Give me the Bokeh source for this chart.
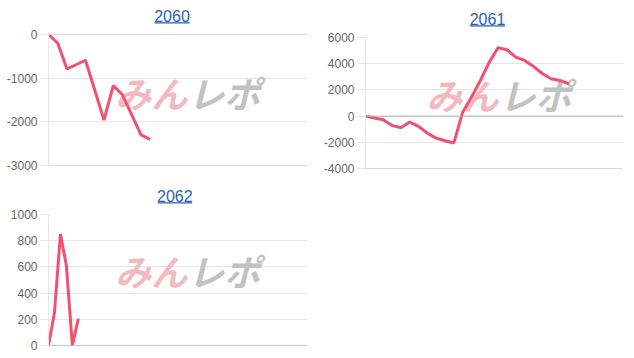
from bokeh.plotting import figure
from bokeh.models import Range1d, FixedTicker, Span, Label, PrintfTickFormatter
from bokeh.layouts import row, column
from bokeh.core.properties import value
from bokeh.embed import file_html
from bokeh.resources import INLINE

# ---- data ----
titles = ["2060", "2061", "2062"]

x_2060 = [0, 1, 2, 4, 6, 7, 8, 10, 11]
y_2060 = [0, -200, -790, -590, -1960, -1170, -1380, -2300, -2400]

x_2061 = list(range(24))
y_2061 = [0, -150, -280, -710, -890, -460, -790, -1300, -1680, -1880, -2050,
          300, 1450, 2720, 4100, 5220, 5070, 4500, 4250, 3800, 3250, 2850, 2720, 2470]

x_2062 = [0, 1, 2, 3, 4, 5]
y_2062 = [0, 250, 850, 610, 0, 205]

ticks_2060 = [-3000, -2000, -1000, 0]
ticks_2061 = [-4000, -2000, 0, 2000, 4000, 6000]
ticks_2062 = [0, 200, 400, 600, 800, 1000]

LINE = "#f2506f"
GRID = "#e6e6e6"
DARK = "#b4b4b4"
TITLE_C = "#2a62b6"
FONT = "Liberation Sans"
W = 317
BL = 48


def header(title, height, br, cx, mid, ul_y):
    h = figure(width=W, height=height, output_backend="svg", toolbar_location=None,
               x_range=Range1d(BL, W - br), y_range=Range1d(height, 0),
               min_border_left=BL, min_border_right=br, min_border_top=0, min_border_bottom=0)
    h.axis.visible = False
    h.grid.grid_line_color = None
    h.outline_line_color = None
    h.text(x=[cx], y=[mid], text=[title], text_font=value(FONT), text_font_size="16px",
           text_align="center", text_baseline="middle", text_color=TITLE_C)
    half = 17.6
    h.segment(x0=[cx - half], y0=[ul_y], x1=[cx + half], y1=[ul_y],
              line_color=TITLE_C, line_width=1.2)
    return h


def chart(xs, ys, ticks, xr, height, br, bb, wm):
    p = figure(width=W, height=height, output_backend="svg", toolbar_location=None,
               x_range=Range1d(*xr), y_range=Range1d(ticks[0], ticks[-1]),
               min_border_left=BL, min_border_right=br, min_border_top=8, min_border_bottom=bb)
    p.outline_line_color = None
    p.background_fill_color = "white"
    p.border_fill_color = "white"
    p.xaxis.visible = False
    p.xgrid.grid_line_color = None
    p.ygrid.grid_line_color = GRID
    p.yaxis.ticker = FixedTicker(ticks=ticks)
    p.yaxis.formatter = PrintfTickFormatter(format="%d")
    p.yaxis.axis_line_color = GRID
    p.yaxis.major_tick_line_color = GRID
    p.yaxis.major_tick_out = 8
    p.yaxis.major_tick_in = 0
    p.yaxis.minor_tick_line_color = None
    p.yaxis.major_label_standoff = 3
    p.yaxis.major_label_text_font = FONT
    p.yaxis.major_label_text_font_size = "12px"
    p.yaxis.major_label_text_color = "#666666"
    p.add_layout(Span(location=0, dimension="width", line_color=DARK, line_width=1))
    p.add_layout(Span(location=ticks[0], dimension="width", line_color=DARK, line_width=1))
    # watermark (behind the line)
    wx, wy = wm
    p.add_layout(Label(x=wx, y=wy, text="みん", text_align="right", text_baseline="middle",
                       text_font="Noto Sans CJK JP", text_font_style="bold italic",
                       text_font_size="36px", text_color="#f2babe", x_offset=0,
                       level="underlay"))
    p.add_layout(Label(x=wx, y=wy, text="レポ", text_align="left", text_baseline="middle",
                       text_font="Noto Sans CJK JP", text_font_style="bold italic",
                       text_font_size="36px", text_color="#c2c2c2", x_offset=1,
                       level="underlay"))
    p.line(xs, ys, line_color=LINE, line_width=3)
    return p


h1 = header(titles[0], 26, 10, 171.5, 15.0, 22.4)
p1 = chart(x_2060, y_2060, ticks_2060, (0, 28), 154, 10, 15, (15.0, -1320))
h3 = header(titles[2], 26, 6, 176.3, 15.0, 22.4)
p3 = chart(x_2062, y_2062, ticks_2062, (0, 43.4), 152, 6, 13, (23.25, 575))
h2 = header(titles[1], 29, 11, 170.0, 18.0, 25.4)
p2 = chart(x_2061, y_2061, ticks_2061, (0, 29.2), 151, 11, 12, (15.05, 1650))

layout = row(column(h1, p1, h3, p3), column(h2, p2))
open("out.html", "w").write(file_html(layout, INLINE))
